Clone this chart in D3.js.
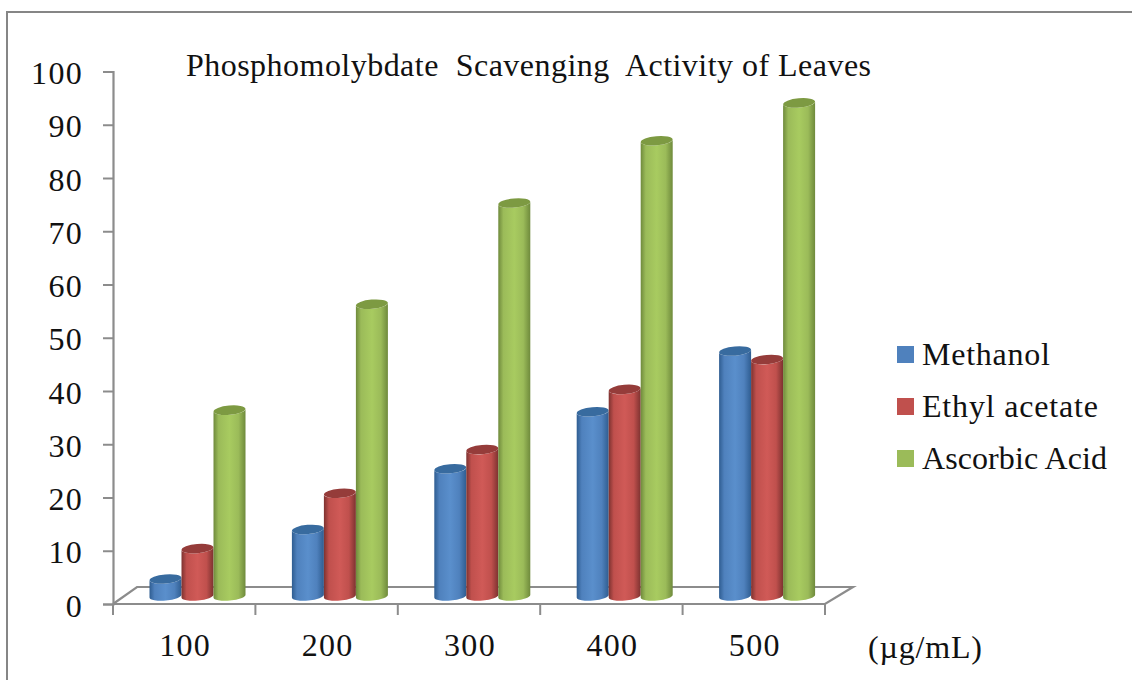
<!DOCTYPE html>
<html><head><meta charset="utf-8">
<script src="https://cdn.jsdelivr.net/npm/d3@7"></script>
<style>html,body{margin:0;background:#fff;overflow:hidden}svg{display:block}text{font-family:"Liberation Serif",serif;fill:#111}</style>
</head><body><script>
const categories=["100","200","300","400","500"];
const seriesNames=["Methanol","Ethyl acetate","Ascorbic Acid"];
const methanol=[3.2,12.5,23.9,34.6,46];
const ethylAcetate=[8.9,19.3,27.5,38.8,44.4];
const ascorbicAcid=[34.9,54.8,73.8,85.5,92.6];
const yTicks=[0,10,20,30,40,50,60,70,80,90,100];
const colors=["#4f81bd","#c0504d","#9bbb59"];
const lights=["#5a8fcc","#d05a57","#a8cb60"];
const darks=["#2f5d91","#7d3230","#6f8a3c"];
const tops=["#386b9f","#953c3a","#7d9a42"];
const allSeries=[methanol,ethylAcetate,ascorbicAcid];
const legendTextWidths=[128,176,185];

const W=1132,H=680,depthY=17,depthX=26;
const svg=d3.select("body").append("svg").attr("width",W).attr("height",H);
const y=d3.scaleLinear().domain([0,100]).range([604,71.5]);
const x=d3.scaleBand().domain(categories).range([113,825]);
const gx=d3.scaleBand().domain(d3.range(3)).range([36.5,132.5]);
const axisCol="#8c8c8c";
const defs=svg.append("defs");
colors.forEach((c,i)=>{
  const g=defs.append("linearGradient").attr("id","g"+i);
  [[0,darks[i]],[.16,colors[i]],[.5,lights[i]],[.78,colors[i]],[1,darks[i]]].forEach(s=>g.append("stop").attr("offset",s[0]).attr("stop-color",s[1]));
});
// frame
svg.append("rect").attr("x",7).attr("y",12).attr("width",W+20).attr("height",H+20).attr("fill","none").attr("stroke","#868686").attr("stroke-width",2);
// floor
const y0=y(0),xa=x.range()[0],xb=x.range()[1];
svg.append("path").attr("d",d3.line()([[xa,y0],[xa+depthX-2,y0-depthY],[xb+depthX+2,y0-depthY],[xb,y0],[xa,y0]])).attr("fill","none").attr("stroke",axisCol).attr("stroke-width",2.2);
// y axis
const ya=svg.append("g").attr("transform",`translate(${xa},0)`).call(d3.axisLeft(y).tickValues(yTicks).tickSize(10).tickPadding(20));
ya.select(".domain").attr("stroke",axisCol).attr("stroke-width",2.2);
ya.selectAll(".tick line").attr("stroke",axisCol).attr("stroke-width",2);
ya.selectAll("text").attr("font-size",32).attr("font-family","Liberation Serif").attr("fill","#111").attr("dy","0.38em").style("letter-spacing","1.3px");
// x axis ticks
svg.append("g").selectAll("line").data(d3.range(categories.length+1)).join("line")
 .attr("x1",i=>xa+i*x.step()).attr("x2",i=>xa+i*x.step()).attr("y1",y0).attr("y2",y0+11).attr("stroke",axisCol).attr("stroke-width",2);
svg.append("g").selectAll("text").data(categories).join("text")
 .attr("x",d=>x(d)+x.bandwidth()/2+1).attr("y",656).attr("text-anchor","middle").attr("font-size",32).style("letter-spacing","1.3px").text(d=>d);
// cylinders
const rx=16,ry=4.6,rot=-5,lift=8;
const rows=categories.map((c,ci)=>allSeries.map((s,si)=>({c,si,v:s[ci]})));
const grp=svg.append("g").selectAll("g").data(rows).join("g");
const cyl=grp.selectAll("g").data(d=>d).join("g");
const L=d=>x(d.c)+gx(d.si),R=d=>L(d)+rx*2,B=d=>y0-lift,T=d=>y(d.v)-lift;
const tilt=1.4;
cyl.append("path").attr("fill",d=>`url(#g${d.si})`)
 .attr("d",d=>`M${L(d)},${T(d)+tilt}L${L(d)},${B(d)+tilt}A${rx},${ry} ${rot} 0 0 ${R(d)},${B(d)-tilt}L${R(d)},${T(d)-tilt}A${rx},${ry} ${rot} 0 1 ${L(d)},${T(d)+tilt}Z`);
cyl.append("ellipse").attr("fill",d=>tops[d.si])
 .attr("cx",d=>L(d)+rx).attr("cy",d=>T(d)).attr("rx",rx).attr("ry",ry)
 .attr("transform",d=>`rotate(${rot} ${L(d)+rx} ${T(d)})`);
// title
svg.append("text").attr("x",186).attr("y",76).attr("font-size",32).attr("textLength",685).attr("lengthAdjust","spacing").style("white-space","pre").text("Phosphomolybdate  Scavenging  Activity of Leaves");
// legend
const leg=svg.append("g").selectAll("g").data(seriesNames).join("g").attr("transform",(d,i)=>`translate(897,${346+i*52})`);
leg.append("rect").attr("width",17).attr("height",17).attr("fill",(d,i)=>colors[i]);
leg.append("text").attr("x",25).attr("y",19).attr("font-size",32).attr("textLength",(d,i)=>legendTextWidths[i]).text(d=>d);
svg.append("text").attr("x",868).attr("y",658).attr("font-size",32).attr("textLength",114).text("(µg/mL)");
</script></body></html>
